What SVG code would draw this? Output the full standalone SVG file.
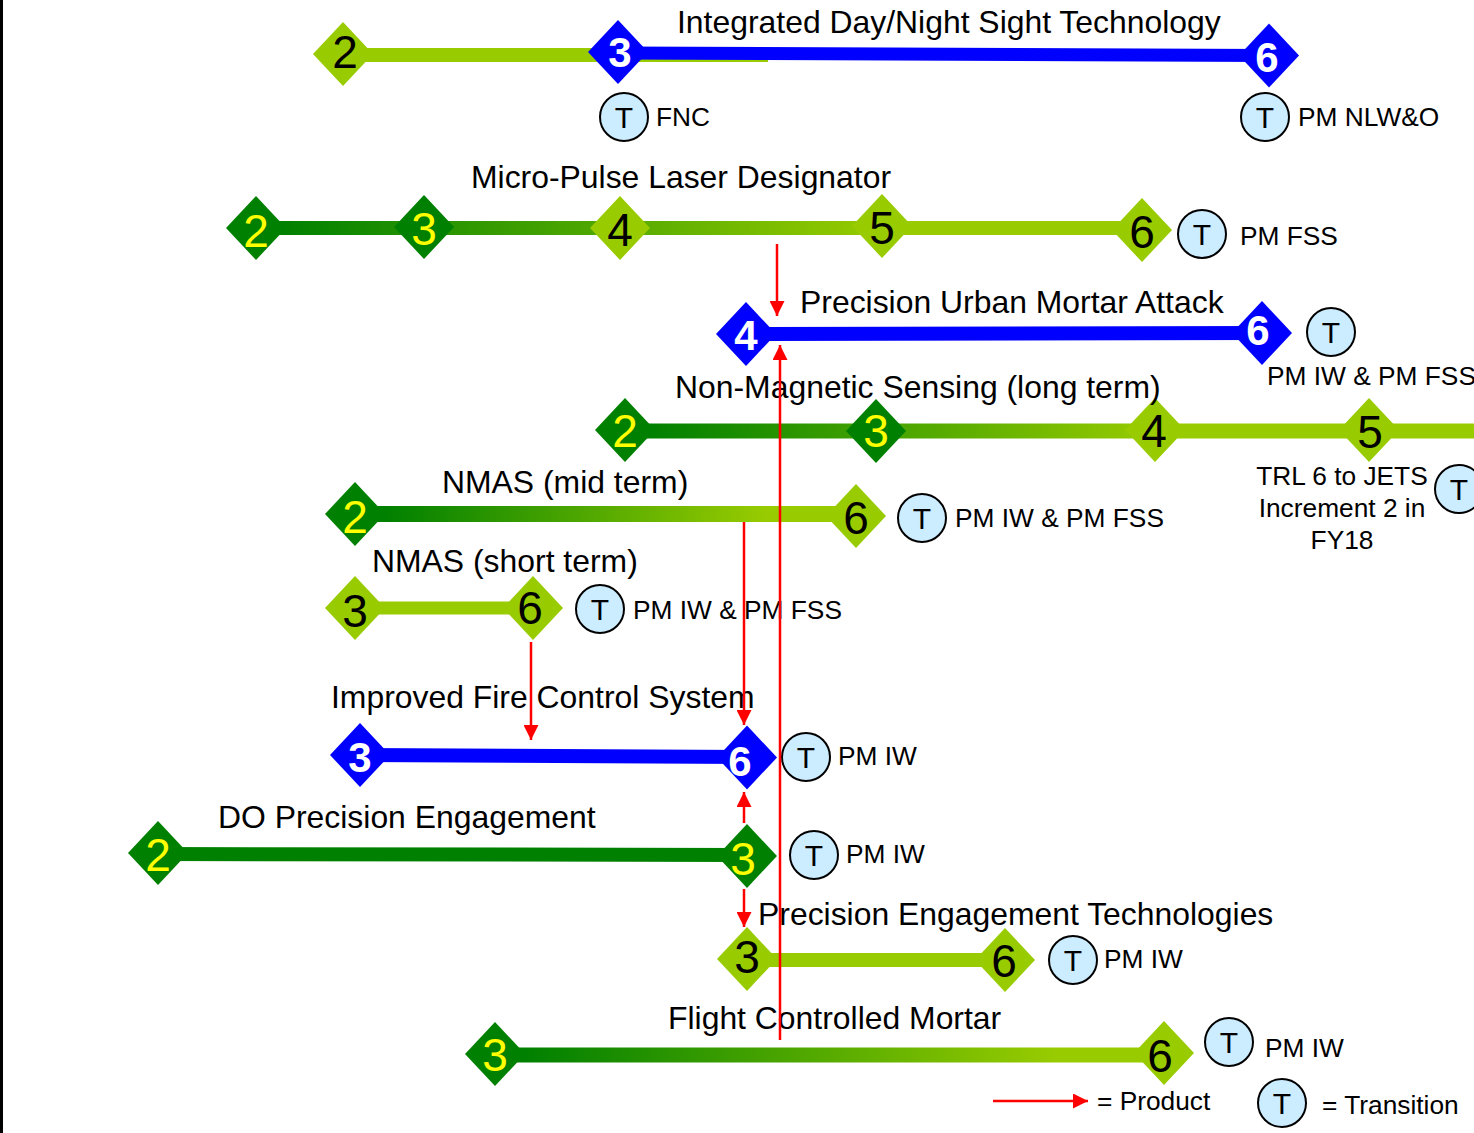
<svg xmlns="http://www.w3.org/2000/svg" xmlns:xlink="http://www.w3.org/1999/xlink" width="1474" height="1133" viewBox="0 0 1474 1133">
<style>
text{font-family:"Liberation Sans",Arial,sans-serif;fill:#000}
.title{font-size:31.9px}
.lab{font-size:26.3px}
.d{font-size:46px;text-anchor:middle}
.y{fill:#FFFF00}
.w{fill:#FFFFFF;font-weight:bold;font-size:42px}
.lg{fill:#99CC00}
.dg{fill:#008000}
.bl{fill:#0000FF}
.tc{fill:#CCECFF;stroke:#000;stroke-width:2}
.tt{font-size:30px;text-anchor:middle}
.mid{text-anchor:middle}
.arr{stroke:#FF0000;stroke-width:2.5;fill:none;marker-end:url(#ah)}
</style>
<defs>
<path id="dm" d="M-30,0 L0,-32 L30,0 L0,32 Z"/>
<marker id="ah" viewBox="0 0 10 10" refX="10" refY="5" markerUnits="userSpaceOnUse" markerWidth="16" markerHeight="15" orient="auto">
<path d="M0,0 L10,5 L0,10 Z" fill="#FF0000"/>
</marker>
<linearGradient id="gMP" gradientUnits="userSpaceOnUse" x1="280" y1="0" x2="890" y2="0"><stop offset="0" stop-color="#008000"/><stop offset="1" stop-color="#99CC00"/></linearGradient>
<linearGradient id="gNMS" gradientUnits="userSpaceOnUse" x1="650" y1="0" x2="1160" y2="0"><stop offset="0" stop-color="#008000"/><stop offset="1" stop-color="#99CC00"/></linearGradient>
<linearGradient id="gMid" gradientUnits="userSpaceOnUse" x1="385" y1="0" x2="770" y2="0"><stop offset="0" stop-color="#008000"/><stop offset="1" stop-color="#99CC00"/></linearGradient>
<linearGradient id="gFCM" gradientUnits="userSpaceOnUse" x1="525" y1="0" x2="1060" y2="0"><stop offset="0" stop-color="#008000"/><stop offset="1" stop-color="#99CC00"/></linearGradient>
</defs>
<rect x="0" y="0" width="1474" height="1133" fill="#FFFFFF"/>
<rect x="0" y="0" width="3" height="1133" fill="#000"/>

<g id="n-idnst">
<line x1="343" y1="55" x2="768" y2="55" stroke="#99CC00" stroke-width="14"/>
<line x1="618" y1="53" x2="1269" y2="55.5" stroke="#0000FF" stroke-width="13"/>
<use xlink:href="#dm" x="343" y="54" class="lg"/>
<text x="345" y="68" class="d">2</text>
<use xlink:href="#dm" x="618" y="52" class="bl"/>
<text x="620" y="67" class="d w">3</text>
<use xlink:href="#dm" x="1269" y="55.5" class="bl"/>
<text x="1267" y="72" class="d w">6</text>
<text x="677" y="33" class="title">Integrated Day/Night Sight Technology</text>
<circle cx="624" cy="117" r="24" class="tc"/><text x="624" y="128" class="tt">T</text>
<text x="656" y="126" class="lab">FNC</text>
<circle cx="1265" cy="117" r="24" class="tc"/><text x="1265" y="128" class="tt">T</text>
<text x="1298" y="126" class="lab">PM NLW&amp;O</text>
</g>

<g id="n-mpld">
<line x1="256" y1="228" x2="1142" y2="228" stroke="url(#gMP)" stroke-width="14"/>
<use xlink:href="#dm" x="256" y="228" class="dg"/>
<text x="256" y="247" class="d y">2</text>
<use xlink:href="#dm" x="424" y="227" class="dg"/>
<text x="424" y="245" class="d y">3</text>
<use xlink:href="#dm" x="620" y="228" class="lg"/>
<text x="620" y="246" class="d">4</text>
<use xlink:href="#dm" x="882" y="226" class="lg"/>
<text x="882" y="244" class="d">5</text>
<use xlink:href="#dm" x="1142" y="230" class="lg"/>
<text x="1142" y="248" class="d">6</text>
<text x="471" y="188" class="title">Micro-Pulse Laser Designator</text>
<circle cx="1202" cy="234" r="24" class="tc"/><text x="1202" y="245" class="tt">T</text>
<text x="1240" y="245" class="lab">PM FSS</text>
</g>

<g id="n-puma">
<line x1="746" y1="334" x2="1262" y2="333" stroke="#0000FF" stroke-width="14"/>
<use xlink:href="#dm" x="746" y="334" class="bl"/>
<text x="746" y="350" class="d w">4</text>
<use xlink:href="#dm" x="1262" y="333" class="bl"/>
<text x="1258" y="345" class="d w">6</text>
<text x="800" y="313" class="title">Precision Urban Mortar Attack</text>
<circle cx="1331" cy="332" r="24" class="tc"/><text x="1331" y="343" class="tt">T</text>
<text x="1267" y="385" class="lab">PM IW &amp; PM FSS</text>
</g>

<g id="n-nms">
<line x1="625" y1="431" x2="1474" y2="431" stroke="url(#gNMS)" stroke-width="15"/>
<use xlink:href="#dm" x="625" y="430" class="dg"/>
<text x="625" y="447" class="d y">2</text>
<use xlink:href="#dm" x="876" y="431" class="dg"/>
<text x="876" y="447" class="d y">3</text>
<use xlink:href="#dm" x="1155" y="430" class="lg"/>
<text x="1154" y="447" class="d">4</text>
<use xlink:href="#dm" x="1369" y="430" class="lg"/>
<text x="1370" y="448" class="d">5</text>
<text x="675" y="398" class="title">Non-Magnetic Sensing (long term)</text>
<text x="1342" y="485" class="lab mid">TRL 6 to JETS</text>
<text x="1342" y="517" class="lab mid">Increment 2 in</text>
<text x="1342" y="549" class="lab mid">FY18</text>
<circle cx="1459" cy="489" r="24" class="tc"/><text x="1459" y="500" class="tt">T</text>
</g>

<g id="n-nmas-mid">
<line x1="355" y1="514" x2="856" y2="514" stroke="url(#gMid)" stroke-width="16"/>
<use xlink:href="#dm" x="355" y="514" class="dg"/>
<text x="355" y="533" class="d y">2</text>
<use xlink:href="#dm" x="856" y="516" class="lg"/>
<text x="856" y="534" class="d">6</text>
<text x="442" y="493" class="title">NMAS (mid term)</text>
<circle cx="922" cy="518" r="24" class="tc"/><text x="922" y="529" class="tt">T</text>
<text x="955" y="527" class="lab">PM IW &amp; PM FSS</text>
</g>

<g id="n-nmas-short">
<line x1="355" y1="608" x2="533" y2="608" stroke="#99CC00" stroke-width="13"/>
<use xlink:href="#dm" x="355" y="608" class="lg"/>
<text x="355" y="627" class="d">3</text>
<use xlink:href="#dm" x="533" y="608" class="lg"/>
<text x="530" y="624" class="d">6</text>
<text x="372" y="572" class="title">NMAS (short term)</text>
<circle cx="600" cy="609" r="24" class="tc"/><text x="600" y="620" class="tt">T</text>
<text x="633" y="619" class="lab">PM IW &amp; PM FSS</text>
</g>

<g id="n-ifcs">
<line x1="360" y1="755" x2="747" y2="757" stroke="#0000FF" stroke-width="14"/>
<use xlink:href="#dm" x="360" y="755" class="bl"/>
<text x="360" y="772" class="d w">3</text>
<use xlink:href="#dm" x="747" y="757.5" class="bl"/>
<text x="740" y="776" class="d w">6</text>
<text x="331" y="708" class="title">Improved Fire Control System</text>
<circle cx="806" cy="757" r="24" class="tc"/><text x="806" y="768" class="tt">T</text>
<text x="838" y="765" class="lab">PM IW</text>
</g>

<g id="n-dope">
<line x1="158" y1="854" x2="747" y2="855" stroke="#008000" stroke-width="14"/>
<use xlink:href="#dm" x="158" y="853" class="dg"/>
<text x="158" y="871" class="d y">2</text>
<use xlink:href="#dm" x="747" y="856" class="dg"/>
<text x="743" y="875" class="d y">3</text>
<text x="218" y="828" class="title">DO Precision Engagement</text>
<circle cx="814" cy="855" r="24" class="tc"/><text x="814" y="866" class="tt">T</text>
<text x="846" y="863" class="lab">PM IW</text>
</g>

<g id="n-pet">
<line x1="747" y1="960" x2="1005" y2="960" stroke="#99CC00" stroke-width="14"/>
<use xlink:href="#dm" x="747" y="959" class="lg"/>
<text x="747" y="973" class="d">3</text>
<use xlink:href="#dm" x="1005" y="960" class="lg"/>
<text x="1004" y="977" class="d">6</text>
<text x="758" y="925" class="title">Precision Engagement Technologies</text>
<circle cx="1073" cy="960" r="24" class="tc"/><text x="1073" y="971" class="tt">T</text>
<text x="1104" y="968" class="lab">PM IW</text>
</g>

<g id="n-fcm">
<line x1="495" y1="1055" x2="1164" y2="1055" stroke="url(#gFCM)" stroke-width="15"/>
<use xlink:href="#dm" x="495" y="1054" class="dg"/>
<text x="495" y="1071" class="d y">3</text>
<use xlink:href="#dm" x="1164" y="1053" class="lg"/>
<text x="1160" y="1072" class="d">6</text>
<text x="668" y="1029" class="title">Flight Controlled Mortar</text>
<circle cx="1229" cy="1042" r="24" class="tc"/><text x="1229" y="1053" class="tt">T</text>
<text x="1265" y="1057" class="lab">PM IW</text>
</g>

<g id="connectors">
<line x1="777" y1="244" x2="777" y2="316" class="arr"/>
<line x1="780" y1="1040" x2="780" y2="345" class="arr"/>
<line x1="744" y1="522" x2="744" y2="725" class="arr"/>
<line x1="531" y1="642" x2="531" y2="740" class="arr"/>
<line x1="744" y1="823" x2="744" y2="792" class="arr"/>
<line x1="744" y1="889" x2="744" y2="927" class="arr"/>
</g>

<g id="legend">
<line x1="993" y1="1101" x2="1088" y2="1101" class="arr"/>
<text x="1097" y="1110" class="lab">= Product</text>
<circle cx="1282" cy="1103" r="24" class="tc"/><text x="1282" y="1114" class="tt">T</text>
<text x="1322" y="1114" class="lab">= Transition</text>
</g>
</svg>
